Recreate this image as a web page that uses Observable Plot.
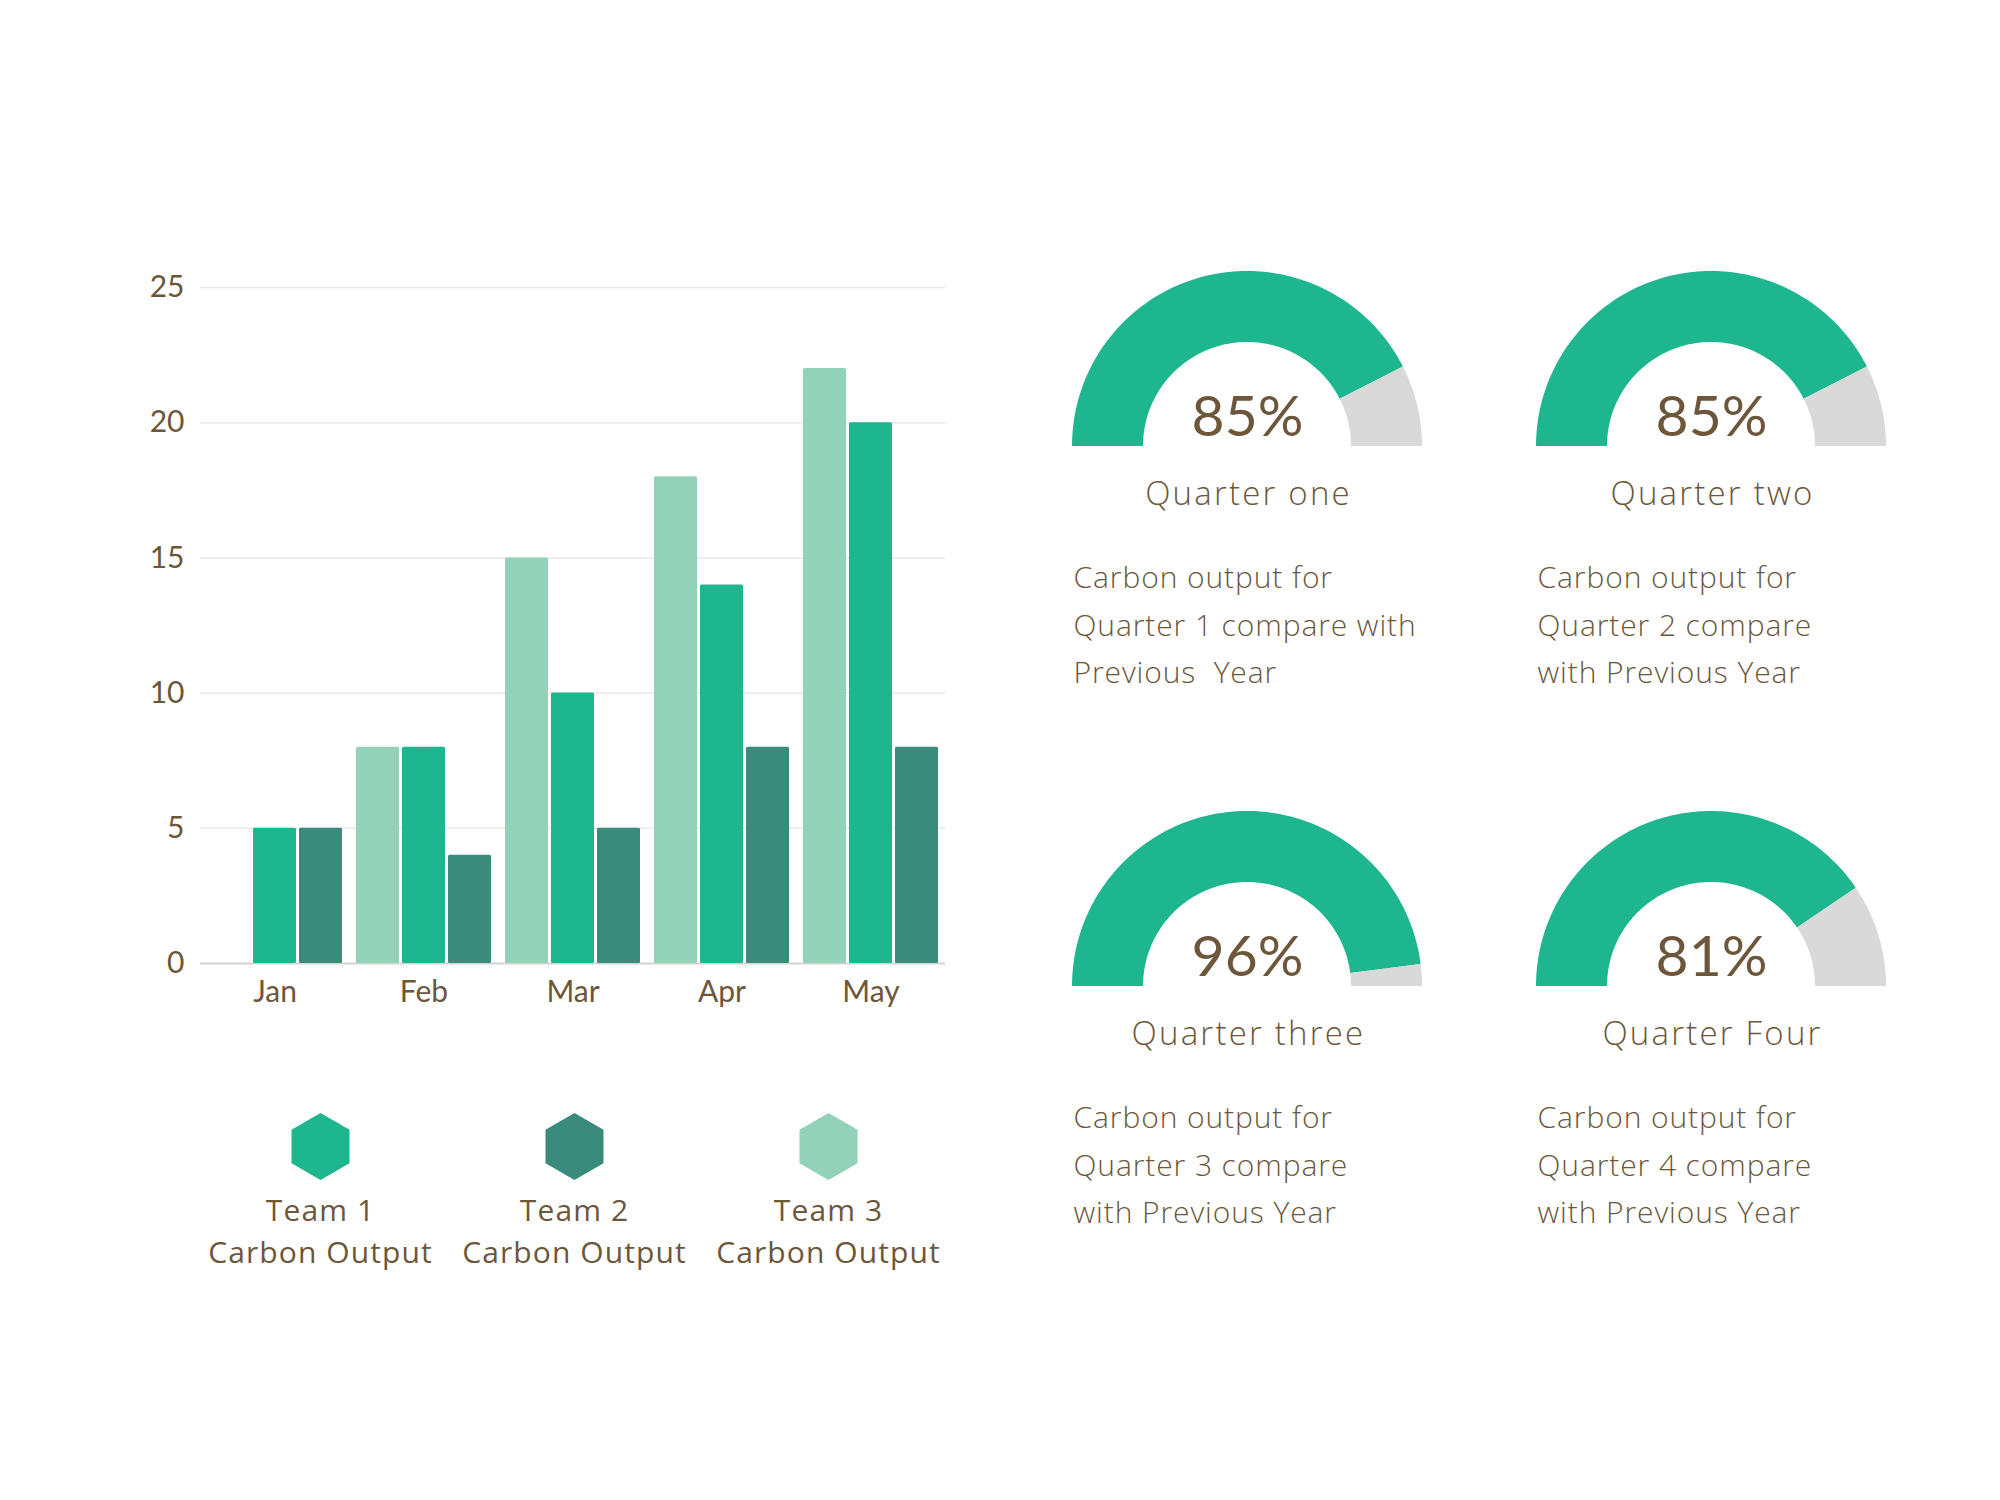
<!DOCTYPE html>
<html>
<head>
<meta charset="utf-8">
<script src="https://cdn.jsdelivr.net/npm/d3@7"></script>
<script src="https://cdn.jsdelivr.net/npm/@observablehq/plot@0.6"></script>
<style>
  html, body { margin: 0; padding: 0; background: #ffffff; }
  #wrap { position: relative; width: 2000px; height: 1500px; overflow: hidden; background: #ffffff; }
  #wrap > div { position: absolute; }
  text, tspan { white-space: pre; }
  g[aria-description="quarter-label"] text { letter-spacing: 2.2px; }
  g[aria-description="quarter-note"] text { letter-spacing: 0.9px; }
  g[aria-description="legend-label"] text { letter-spacing: 1.1px; }
</style>
</head>
<body>
<div id="wrap">
  <div id="bars" style="left:0px;top:0px"></div>
  <div id="legend" style="left:0px;top:1100px"></div>
  <div id="gauges" style="left:1047px;top:246px"></div>
</div>
<script>
// ---------- data ----------
const months = ["Jan", "Feb", "Mar", "Apr", "May"];
const teams = ["Team 1", "Team 2", "Team 3"];
const team1 = [5, 8, 10, 14, 20];
const team2 = [5, 4, 5, 8, 8];
const team3 = [0, 8, 15, 18, 22];
const barOrder = ["Team 3", "Team 1", "Team 2"];
const yTicks = [0, 5, 10, 15, 20, 25];
const legendSuffix = "Carbon Output";

const quarterLabels = ["Quarter one", "Quarter two", "Quarter three", "Quarter Four"];
const quarterPercents = [85, 85, 96, 81];
const quarterNotes = [
  "Carbon output for\nQuarter 1 compare with\nPrevious  Year",
  "Carbon output for\nQuarter 2 compare\nwith Previous Year",
  "Carbon output for\nQuarter 3 compare\nwith Previous Year",
  "Carbon output for\nQuarter 4 compare\nwith Previous Year"
];

// ---------- styles ----------
const teamColors = ["#1DB68F", "#3A8B7C", "#92D2B9"];
const textColor = "#6C573A";
const gaugeFill = "#1DB68F";
const gaugeRest = "#D9D9D9";
const sansFont = "'Open Sans', Inter, sans-serif";

// ---------- bar chart ----------
const barRows = months.flatMap((m, i) => [
  {month: m, team: "Team 1", value: team1[i]},
  {month: m, team: "Team 2", value: team2[i]},
  {month: m, team: "Team 3", value: team3[i]}
]);

const barChart = Plot.plot({
  width: 1000,
  height: 1040,
  marginLeft: 206,
  marginRight: 60,
  marginTop: 287,
  marginBottom: 77,
  style: {fontFamily: "Lato, sans-serif", fontSize: "30px", color: textColor, background: "transparent", overflow: "visible"},
  fx: {domain: months, paddingInner: 0.0785, paddingOuter: 0, label: null, axis: "bottom", tickSize: 0, tickPadding: 17},
  x: {domain: barOrder, paddingInner: 0.058, paddingOuter: 0, axis: null},
  y: {domain: [0, 25], ticks: yTicks, tickSize: 0, tickPadding: 22, label: null},
  color: {domain: teams, range: teamColors},
  marks: [
    Plot.ruleY(yTicks.filter(d => d > 0), {stroke: "#E9E9E9", strokeWidth: 1.5, insetLeft: -6, insetRight: -6}),
    Plot.ruleY([0], {stroke: "#D4D4D4", strokeWidth: 2, insetLeft: -6, insetRight: -6}),
    Plot.barY(barRows, {fx: "month", x: "team", y: "value", fill: "team", rx: 1.5})
  ]
});
document.getElementById("bars").appendChild(barChart);

// ---------- legend ----------
const legend = Plot.plot({
  width: 1000,
  height: 200,
  margin: 0,
  style: {fontFamily: sansFont, color: textColor, background: "transparent", overflow: "visible"},
  x: {type: "point", domain: teams, range: [320, 828], padding: 0, axis: null},
  color: {domain: teams, range: teamColors},
  marks: [
    Plot.dot(teams, {x: d => d, fill: d => d, symbol: "hexagon", r: 29, frameAnchor: "top", dy: 46}),
    Plot.text(teams, {
      x: d => d, text: d => d + "\n" + legendSuffix, frameAnchor: "top", dy: 162,
      lineAnchor: "bottom", lineHeight: 1.37, fontSize: 30, fontWeight: 500,
      fill: textColor, ariaDescription: "legend-label"
    })
  ]
});
document.getElementById("legend").appendChild(legend);

// ---------- gauges ----------
const CX = 200, CY = 200, R_OUT = 175, R_IN = 104, N = 120;
const gauges = quarterLabels.map((label, i) => ({
  label, pct: quarterPercents[i], note: quarterNotes[i], col: i % 2, row: Math.floor(i / 2)
}));

const arcPoints = gauges.flatMap(g => {
  const split = Math.PI * (1 - g.pct / 100);
  const segs = [
    {part: "value", a0: Math.PI, a1: split},
    {part: "rest", a0: split, a1: 0}
  ];
  return segs.flatMap(s => d3.range(N + 1).map(k => {
    const a = s.a0 + (s.a1 - s.a0) * k / N;
    return {
      col: g.col, row: g.row, part: s.part, key: g.label + "-" + s.part,
      x1: CX + R_OUT * Math.cos(a), y1: CY - R_OUT * Math.sin(a),
      x2: CX + R_IN * Math.cos(a), y2: CY - R_IN * Math.sin(a)
    };
  }));
});

const gaugePlot = Plot.plot({
  width: 928,
  height: 1080,
  margin: 0,
  style: {fontFamily: sansFont, color: textColor, background: "transparent", overflow: "visible"},
  fx: {domain: [0, 1], padding: 0, axis: null},
  fy: {domain: [0, 1], padding: 0, axis: null},
  x: {domain: [0, 464], axis: null},
  y: {domain: [0, 540], reverse: true, axis: null},
  marks: [
    Plot.area(arcPoints.filter(d => d.part === "value"), {fx: "col", fy: "row", x1: "x1", y1: "y1", x2: "x2", y2: "y2", z: "key", fill: gaugeFill}),
    Plot.area(arcPoints.filter(d => d.part === "rest"), {fx: "col", fy: "row", x1: "x1", y1: "y1", x2: "x2", y2: "y2", z: "key", fill: gaugeRest}),
    Plot.text(gauges, {fx: "col", fy: "row", x: CX, y: 189, text: d => d.pct + "%", lineAnchor: "bottom",
      fontSize: 57, fontWeight: 400, fontFamily: "Lato, sans-serif", fill: textColor}),
    Plot.text(gauges, {fx: "col", fy: "row", x: CX + 1, y: 258, text: "label", lineAnchor: "bottom",
      fontSize: 33, fontWeight: 300, fill: textColor, ariaDescription: "quarter-label"}),
    Plot.text(gauges, {fx: "col", fy: "row", x: 26, y: 436, text: "note", lineAnchor: "bottom", textAnchor: "start",
      lineHeight: 1.567, fontSize: 30, fontWeight: 300, fill: textColor, ariaDescription: "quarter-note"})
  ]
});
document.getElementById("gauges").appendChild(gaugePlot);
</script>
</body>
</html>
